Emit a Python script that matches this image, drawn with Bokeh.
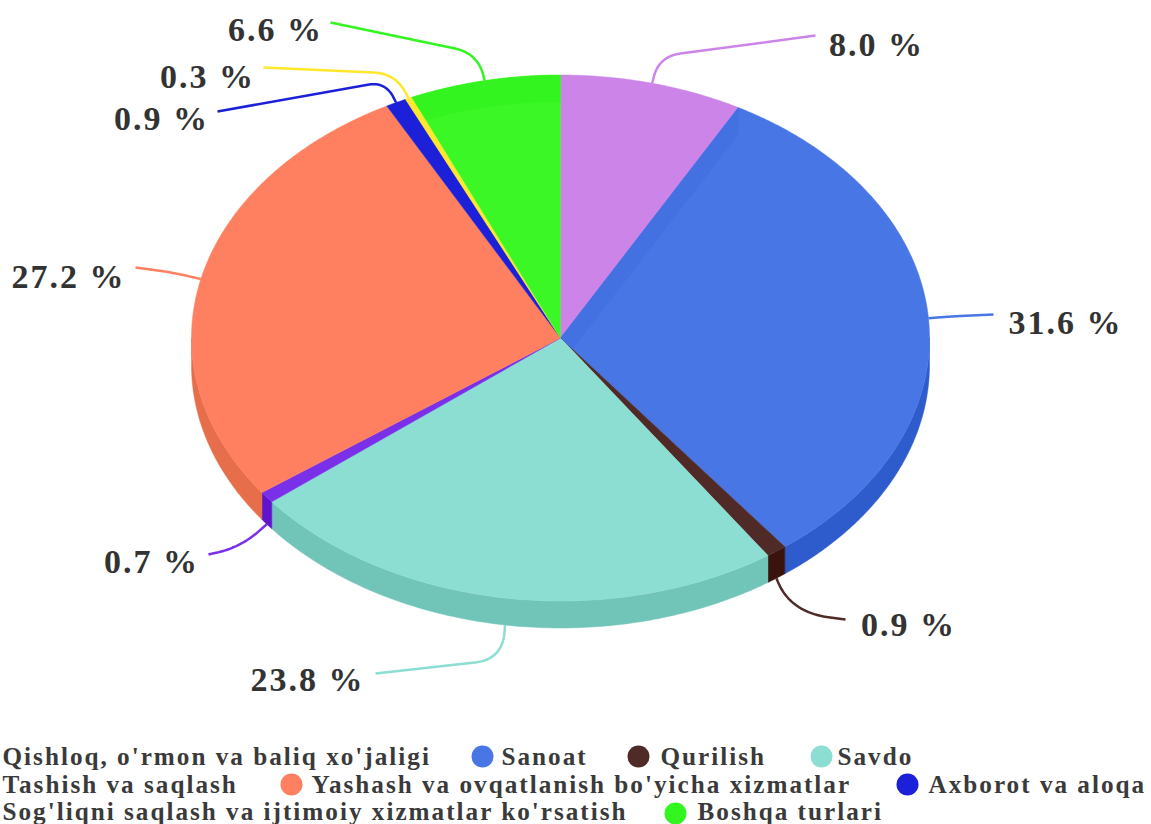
import numpy as np
from bokeh.plotting import figure
from bokeh.models import Range1d
from bokeh.core.properties import value
from bokeh.embed import file_html
from bokeh.resources import INLINE

categories = ["Qishloq, o'rmon va baliq xo'jaligi", "Sanoat", "Qurilish", "Savdo", "Tashish va saqlash",
              "Yashash va ovqatlanish bo'yicha xizmatlar", "Axborot va aloqa",
              "Sog'liqni saqlash va ijtimoiy xizmatlar ko'rsatish", "Boshqa turlari"]
shares = [8.0, 31.6, 0.9, 23.8, 0.7, 27.2, 0.9, 0.3, 6.6]
top_colors = ["#CC84E8", "#4876E4", "#4F2A27", "#8CDED2", "#7A30E8", "#FF8060", "#1C20D8", "#FFE82C", "#3BF726"]
side_colors = ["#B06CCB", "#2F5CCD", "#3A120E", "#71C4B8", "#5E15CC", "#E66E4B", "#1010B0", "#D8C010", "#20C810"]
leader_colors = ["#CC84E8", "#4876E4", "#4F2A27", "#8CDED2", "#7A30E8", "#FF8060", "#1C20D8", "#FFE82C", "#33F520"]

# Layout
CX, CY, RX, RY, DEPTH = 560.0, 337.5, 369.0, 263.0, 27.0
label_xy = [(871, 44), (1059, 322), (903, 624), (301, 679), (146, 561), (62, 276), (156, 118), (202, 76), (270, 29)]
corner_xy = [(658, 56), (950, 316), (790, 612), (502, 659), (240, 547), (172, 272), (385, 81), (395, 73), (478, 53)]
corner_r = [22, 10, 40, 28, 25, 15, 18, 22, 24]
end_xy = [(815, 35), (993, 314), (845, 619), (375, 673), (208, 554), (135, 267), (217, 111), (263, 67), (330, 22)]
legend_text_xy = [(2, 756), (501, 756), (660, 756), (837, 756), (2, 784), (311, 784), (928, 784), (2, 811), (697, 811)]
legend_marker_xy = [None, (482, 756), (638, 756), (821, 756), None, (291, 784), (907, 784), None, (675, 813)]

p = figure(width=1151, height=824, x_range=Range1d(0, 1151), y_range=Range1d(824, 0),
           output_backend="svg", toolbar_location=None, min_border=0,
           x_axis_type=None, y_axis_type=None, outline_line_color=None,
           background_fill_color="white", border_fill_color="white")
p.grid.visible = False
p.styles = {"position": "absolute", "left": "0px", "top": "0px", "letter-spacing": "2px"}


def pt(a, dy=0.0):
    return CX + RX * np.sin(a), CY - RY * np.cos(a) + dy


def rounded(s, c, e, r):
    s, c, e = np.array(s, float), np.array(c, float), np.array(e, float)
    r1 = min(r, 0.9 * np.linalg.norm(s - c))
    r2 = min(r, 0.9 * np.linalg.norm(e - c))
    a = c + (s - c) / np.linalg.norm(s - c) * r1
    b = c + (e - c) / np.linalg.norm(e - c) * r2
    t = np.linspace(0, 1, 24)[:, None]
    q = (1 - t) ** 2 * a + 2 * t * (1 - t) * c + t ** 2 * b
    pts = np.vstack([s, q, e])
    return pts[:, 0], pts[:, 1]


edges = np.radians(np.cumsum([0.0] + shares) * 3.6)

# Side walls (the visible front half only)
for i in range(len(shares)):
    a0, a1 = max(edges[i], np.pi / 2), min(edges[i + 1], 3 * np.pi / 2)
    if a1 <= a0:
        continue
    t = np.linspace(a0, a1, 120)
    xt, yt = pt(t)
    xb, yb = pt(t[::-1], DEPTH)
    p.patch(np.r_[xt, xb], np.r_[yt, yb], fill_color=side_colors[i], line_color=side_colors[i], line_width=0.5)

# Top surface
for i in range(len(shares)):
    t = np.linspace(edges[i], edges[i + 1], max(8, int(shares[i] * 8)))
    x, y = pt(t)
    p.patch(np.r_[CX, x], np.r_[CY, y], fill_color=top_colors[i], line_color=top_colors[i], line_width=0.5)

# Faint shading of the back wall seen through the last slice
last = len(shares) - 1
t = np.linspace(edges[last], edges[last + 1], 120)
xo, yo = pt(t)
xs, ys = pt(t, DEPTH)
ex0, ey0 = pt(edges[last])
radial_x = CX + (ex0 - CX) * (CY - ys) / (CY - ey0)
inside = xs >= radial_x
p.patch(np.r_[xo, xs[inside][::-1]], np.r_[yo, ys[inside][::-1]], fill_color="#34F41F", line_color=None)

# ... and along the edge of the second slice
ax, ay = pt(edges[1])
bx, by = pt(edges[2])
dx1, dy1 = ax - CX, ay - CY
dx2, dy2 = bx - CX, by - CY
u = DEPTH * dx1 / (dx1 * dy2 - dx2 * dy1)
ix, iy = CX + u * dx2, CY + u * dy2
p.patch([CX, ax, ax, ix], [CY, ay, ay + DEPTH, iy], fill_color="#4371E2", line_color=None)

# Leader lines and labels
mids = (edges[:-1] + edges[1:]) / 2
for i, m in enumerate(mids):
    dy = DEPTH if np.cos(m) < 0 else 0.0
    lx, ly = rounded(pt(m, dy), corner_xy[i], end_xy[i], corner_r[i])
    p.line(lx, ly, line_color=leader_colors[i], line_width=2.5, line_join="round")
    p.text(x=[label_xy[i][0]], y=[label_xy[i][1]], text=[f"{shares[i]:.1f} %"],
           text_font=value("Liberation Serif"), text_font_style="bold", text_font_size="34px",
           text_color="#333333", text_align="center", text_baseline="middle")

# Legend
for i, name in enumerate(categories):
    p.text(x=[legend_text_xy[i][0]], y=[legend_text_xy[i][1]], text=[name],
           text_font=value("Liberation Serif"), text_font_style="bold", text_font_size="25.2px",
           text_color="#3A3A3A", text_align="left", text_baseline="middle")
    if legend_marker_xy[i] is not None:
        p.scatter(x=[legend_marker_xy[i][0]], y=[legend_marker_xy[i][1]], size=22, marker="circle",
                  fill_color=leader_colors[i], line_color=leader_colors[i], line_width=0)

open("out.html", "w").write(file_html(p, INLINE))
